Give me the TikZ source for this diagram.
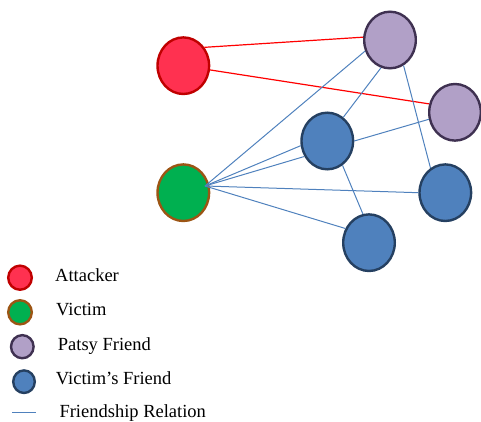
\documentclass[tikz,border=0pt]{standalone}
\usepackage{fontspec}
\setmainfont{Liberation Serif}
\usetikzlibrary{shapes.geometric}
\definecolor{attfill}{HTML}{FF3150}
\definecolor{attdraw}{HTML}{C00000}
\definecolor{vicfill}{HTML}{00B050}
\definecolor{vicdraw}{HTML}{9C5514}
\definecolor{patfill}{HTML}{B1A0C7}
\definecolor{patdraw}{HTML}{3F3151}
\definecolor{frfill}{HTML}{4F81BD}
\definecolor{frdraw}{HTML}{254061}
\definecolor{relline}{HTML}{4F81BD}
\tikzset{
  big/.style={ellipse, inner sep=0pt, minimum width=51.6pt, minimum height=56.6pt, line width=2.4pt},
  small/.style={ellipse, inner sep=0pt, minimum width=22.6pt, minimum height=23.1pt, line width=2.4pt},
  attacker/.style={fill=attfill, draw=attdraw},
  victim/.style={fill=vicfill, draw=vicdraw},
  patsy/.style={fill=patfill, draw=patdraw},
  friend/.style={fill=frfill, draw=frdraw},
  rel/.style={draw=relline, line width=1pt},
  atk/.style={draw=red, line width=1.2pt},
  lbl/.style={anchor=base west, inner sep=0pt, font=\fontsize{18.5}{20}\selectfont}
}
\begin{document}
\begin{tikzpicture}[x=1pt,y=-1pt]
\useasboundingbox (0,0) rectangle (481,422);
% main nodes
\node[big,attacker] (att) at (183.3,65.7) {};
\node[big,patsy] (p1) at (390,40) {};
\node[big,patsy] (p2) at (455,112.3) {};
\node[big,friend] (b1) at (327.3,141) {};
\node[big,victim] (vic) at (183.3,192.7) {};
\node[big,friend] (br) at (445.3,192.7) {};
\node[big,friend] (bb) at (369,242.7) {};
\coordinate (vs) at (205,186);
% edges
\draw[atk] (att.41) -- (p1.174);
\draw[atk] (att.-9) -- (p2.162);
\draw[rel] (vs) -- (p1.204);
\draw[rel] (vs) -- (b1.190);
\draw[rel] (vs) -- (b1.214);
\draw[rel] (vs) -- (br.180);
\draw[rel] (vs) -- (bb.149);
\draw[rel] (b1.56) -- (p1.252);
\draw[rel] (b1.0) -- (p2.195);
\draw[rel] (b1.-58) -- (bb.102);
\draw[rel] (p1.-62) -- (br.121);
% legend
\node[small,attacker,minimum width=23.6pt,minimum height=24.1pt] (la) at (20,277.7) {};
\node[small,victim,minimum width=23.6pt,minimum height=24.1pt] (lv) at (20,312.3) {};
\node[small,patsy] (lp) at (22.3,346.7) {};
\node[small,friend,minimum width=21.6pt,minimum height=22.6pt] (lf) at (24,381.7) {};
\coordinate (lr1) at (12.3,412.3);
\coordinate (lr2) at (35.7,412.3);
\draw[rel] (lr1) -- (lr2);
\node[lbl] (ta) at (55,281.7) {Attacker};
\node[lbl] (tv) at (56,315.7) {Victim};
\node[lbl] (tp) at (57.7,350) {Patsy Friend};
\node[lbl] (tf) at (55.7,384.3) {Victim’s Friend};
\node[lbl] (tr) at (59.3,417.7) {Friendship Relation};
\end{tikzpicture}
\end{document}
